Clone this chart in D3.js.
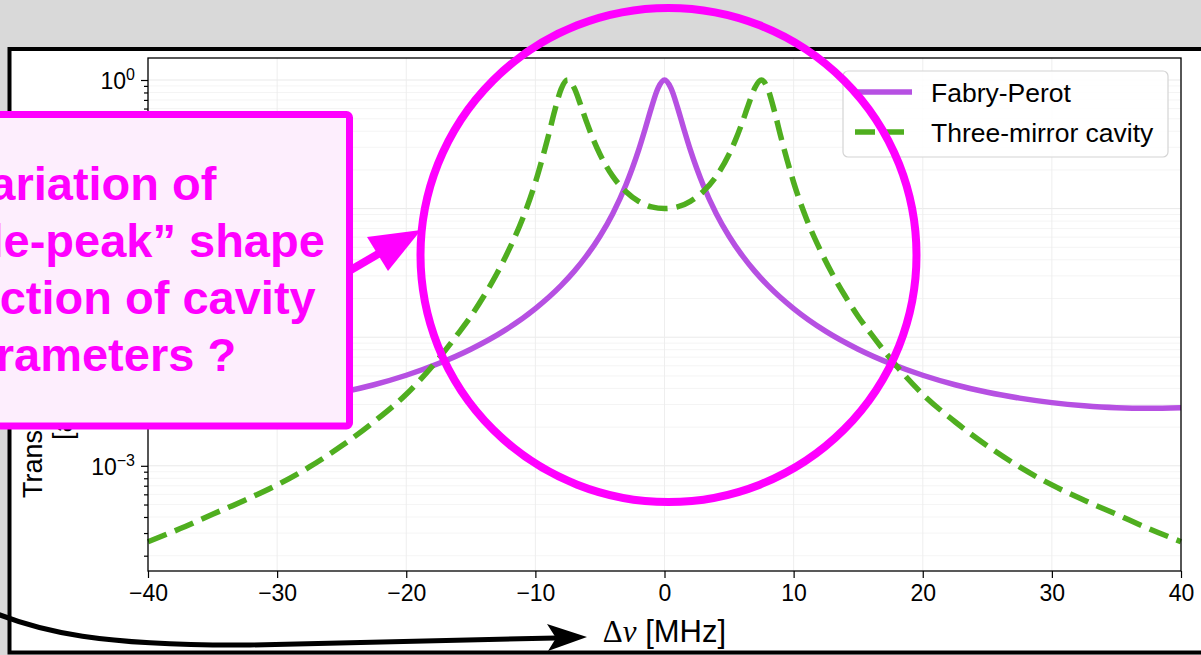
<!DOCTYPE html>
<html>
<head>
<meta charset="utf-8">
<script src="https://cdn.jsdelivr.net/npm/d3@7"></script>
<style>
  html, body { margin: 0; padding: 0; background: #d9d9d9; overflow: hidden; }
  svg { display: block; }
</style>
</head>
<body>
<script>
// Detuning samples [MHz] and normalized transmission of the two cavities
const fpDetuning = [-40,-37.5,-35,-32.5,-30,-27.5,-25,-22.5,-20,-17.5,-15,-12.5,-10,-8,-7,-6,-5,-4,-3,-2.5,-2,-1.5,-1,-0.5,
  0,0.5,1,1.5,2,2.5,3,4,5,6,7,8,10,12.5,15,17.5,20,22.5,25,27.5,30,32.5,35,37.5,40];
const fpTransmission = [0.00283,0.00280,0.00283,0.00293,0.00310,0.00336,0.00373,0.00427,0.00506,0.00624,0.00807,0.0111,0.0167,0.0253,0.0325,0.0434,0.0610,0.0917,0.152,0.205,0.286,0.416,0.616,0.865,
  1.0,0.865,0.616,0.416,0.286,0.205,0.152,0.0917,0.0610,0.0434,0.0325,0.0253,0.0167,0.0111,0.00807,0.00624,0.00506,0.00427,0.00373,0.00336,0.00310,0.00293,0.00283,0.00280,0.00283];

const tmDetuning = [-40,-37.5,-35,-32.5,-30,-27.5,-25,-22.5,-20,-17.5,-16,-15,-14,-13,-12,-11,-10,-9.5,-9,-8.5,-8,-7.5,-7,-6.5,-6,-5.5,-5,-4,-3,-2,-1,
  0,1,2,3,4,5,5.5,6,6.5,7,7.5,8,8.5,9,9.5,10,11,12,13,14,15,16,17.5,20,22.5,25,27.5,30,32.5,35,37.5,40];
const tmTransmission = [0.000257,0.000325,0.00042,0.00054,0.00071,0.00098,0.00143,0.00220,0.0036,0.0068,0.0106,0.0145,0.0208,0.031,0.049,0.083,0.160,0.238,0.365,0.579,0.854,1.0,0.870,0.642,0.462,0.342,0.265,0.178,0.136,0.114,0.103,
  0.100,0.103,0.114,0.136,0.178,0.265,0.342,0.462,0.642,0.870,1.0,0.854,0.579,0.365,0.238,0.160,0.083,0.049,0.031,0.0208,0.0145,0.0106,0.0068,0.0036,0.00220,0.00143,0.00098,0.00071,0.00054,0.00042,0.000325,0.000257];

const seriesNames = ["Fabry-Perot", "Three-mirror cavity"];
const xTickValues = [-40, -30, -20, -10, 0, 10, 20, 30, 40];
const yTickExponents = [0, -1, -2, -3];
const yLabelLines = ["Transmission", "[a.u.]"];
const calloutLines = ["Variation of", "\u201Cdouble-peak\u201D shape", "as function of cavity", "parameters ?"];

const W = 1201, H = 655;
const plot = { left: 148, right: 1181, top: 58, bottom: 571 };
const purple = "#b650e2", green = "#4fae1f", magenta = "#ff00ff";
const sans = "'Liberation Sans', Arial, Helvetica, sans-serif";
const serif = "'Liberation Serif', 'DejaVu Serif', serif";

const svg = d3.select("body").append("svg").attr("width", W).attr("height", H);

// slide background and white frame
svg.append("rect").attr("width", W).attr("height", H).attr("fill", "#d9d9d9");
svg.append("rect").attr("x", 9.5).attr("y", 49).attr("width", 1400).attr("height", 603.5)
  .attr("fill", "#ffffff").attr("stroke", "#000").attr("stroke-width", 4);

const x = d3.scaleLinear().domain([-40, 40]).range([plot.left, plot.right]);
const y = d3.scaleLog().domain([Math.pow(10, -3.818), Math.pow(10, 0.1711)]).range([plot.bottom, plot.top]);

// minor / major decade positions
const yMajor = yTickExponents.map(e => Math.pow(10, e));
const yMinor = [];
for (let e = -4; e <= 0; e++) for (let m = 2; m <= 9; m++) {
  const v = m * Math.pow(10, e);
  if (v >= y.domain()[0] && v <= y.domain()[1]) yMinor.push(v);
}

const g = svg.append("g");

// grid
g.append("g").selectAll("line").data(yMinor).join("line")
  .attr("x1", plot.left).attr("x2", plot.right).attr("y1", d => y(d)).attr("y2", d => y(d))
  .attr("stroke", "#f1f1f1").attr("stroke-width", 0.8);
g.append("g").selectAll("line").data(yMajor).join("line")
  .attr("x1", plot.left).attr("x2", plot.right).attr("y1", d => y(d)).attr("y2", d => y(d))
  .attr("stroke", "#e6e6e6").attr("stroke-width", 0.9);
g.append("g").selectAll("line").data(xTickValues).join("line")
  .attr("x1", d => x(d)).attr("x2", d => x(d)).attr("y1", plot.top).attr("y2", plot.bottom)
  .attr("stroke", "#ececec").attr("stroke-width", 0.9);

// curves
const fpData = fpDetuning.map((d, i) => [d, fpTransmission[i]]);
const tmData = tmDetuning.map((d, i) => [d, tmTransmission[i]]);
const line = d3.line().x(d => x(d[0])).y(d => y(d[1])).curve(d3.curveMonotoneX);

g.append("path").datum(fpData).attr("d", line).attr("fill", "none")
  .attr("stroke", purple).attr("stroke-width", 5.5).attr("stroke-linejoin", "round");
g.append("path").datum(tmData).attr("d", line).attr("fill", "none")
  .attr("stroke", green).attr("stroke-width", 5.5).attr("stroke-dasharray", "20,9");

// axes
const xAxis = g.append("g").attr("transform", `translate(0,${plot.bottom})`)
  .call(d3.axisBottom(x).tickValues(xTickValues).tickSize(7).tickPadding(7));
xAxis.selectAll("text").attr("font-family", sans).attr("font-size", 23).attr("fill", "#000");

const yMinorAxis = g.append("g").attr("transform", `translate(${plot.left},0)`)
  .call(d3.axisLeft(y).tickValues(yMinor).tickSize(4).tickFormat(""));
yMinorAxis.select(".domain").remove();

const yAxis = g.append("g").attr("transform", `translate(${plot.left},0)`)
  .call(d3.axisLeft(y).tickValues(yMajor).tickSize(7).tickPadding(8).tickFormat(""));
yAxis.selectAll(".tick").each(function(d, i) {
  const t = d3.select(this).append("text").attr("x", -13).attr("dy", "0.36em")
    .attr("text-anchor", "end").attr("font-family", sans).attr("font-size", 23).attr("fill", "#000");
  t.append("tspan").text("10");
  t.append("tspan").attr("dy", "-0.55em").attr("font-size", 16)
    .text(yTickExponents[i] === 0 ? "0" : "\u2212" + Math.abs(yTickExponents[i]));
});

[xAxis, yAxis, yMinorAxis].forEach(a => a.selectAll("line").attr("stroke", "#000").attr("stroke-width", 1.2));
[xAxis, yAxis].forEach(a => a.select(".domain").remove());

// spines
g.append("rect").attr("x", plot.left).attr("y", plot.top)
  .attr("width", plot.right - plot.left).attr("height", plot.bottom - plot.top)
  .attr("fill", "none").attr("stroke", "#000").attr("stroke-width", 1.3);

// axis labels
const xl = g.append("text").attr("x", (plot.left + plot.right) / 2).attr("y", 642)
  .attr("text-anchor", "middle").attr("font-size", 31).attr("fill", "#000");
xl.append("tspan").attr("font-family", serif).text("\u0394");
xl.append("tspan").attr("font-family", serif).attr("font-style", "italic").text("\u03BD");
xl.append("tspan").attr("font-family", sans).text(" [MHz]");

yLabelLines.forEach((txt, i) => {
  g.append("text").attr("transform", `translate(${42 + i * 30},${i === 0 ? 498 : 440}) rotate(-90)`)
    .attr("font-family", sans).attr("font-size", 27).attr("fill", "#000").text(txt);
});

// legend
const lg = svg.append("g");
lg.append("rect").attr("x", 843).attr("y", 71).attr("width", 325).attr("height", 86).attr("rx", 5)
  .attr("fill", "#fff").attr("fill-opacity", 0.85).attr("stroke", "#d4d4d4").attr("stroke-width", 1.2);
const legendRows = [
  { name: seriesNames[0], color: purple, dash: null, y: 92 },
  { name: seriesNames[1], color: green, dash: "20,9", y: 132 }
];
legendRows.forEach(r => {
  lg.append("line").attr("x1", 855).attr("x2", 912).attr("y1", r.y).attr("y2", r.y)
    .attr("stroke", r.color).attr("stroke-width", 5.5).attr("stroke-dasharray", r.dash);
  lg.append("text").attr("x", 931).attr("y", r.y + 9.5).attr("font-family", sans)
    .attr("font-size", 26.5).attr("fill", "#000").text(r.name);
});

// callout box with question
const callout = svg.append("g");
callout.append("rect").attr("x", -300).attr("y", 114.5).attr("width", 649.5).attr("height", 311.5).attr("rx", 3)
  .attr("fill", "#fdeefd").attr("stroke", magenta).attr("stroke-width", 7);
calloutLines.forEach((txt, i) => {
  callout.append("text").attr("x", 88.5).attr("y", 200 + i * 57).attr("text-anchor", "middle")
    .attr("font-family", sans).attr("font-weight", "bold").attr("font-size", 47).attr("fill", magenta).text(txt);
});

// arrow from the callout towards the highlighted peaks
callout.append("line").attr("x1", 349).attr("y1", 271).attr("x2", 385).attr("y2", 250)
  .attr("stroke", magenta).attr("stroke-width", 8);
callout.append("path").attr("d", "M421,230 L367,237 L388,271 Z").attr("fill", magenta);

// highlight ring
svg.append("ellipse").attr("cx", 668.5).attr("cy", 255).attr("rx", 248).attr("ry", 247)
  .attr("fill", "none").attr("stroke", magenta).attr("stroke-width", 8);

// black pointer to the frequency axis
svg.append("path").attr("d", "M-10,611 C40,632 100,646 250,645 L556,638")
  .attr("fill", "none").attr("stroke", "#000").attr("stroke-width", 5);
svg.append("path").attr("d", "M587,637 L547,624 L556,638 L548,651 Z").attr("fill", "#000");
</script>
</body>
</html>
